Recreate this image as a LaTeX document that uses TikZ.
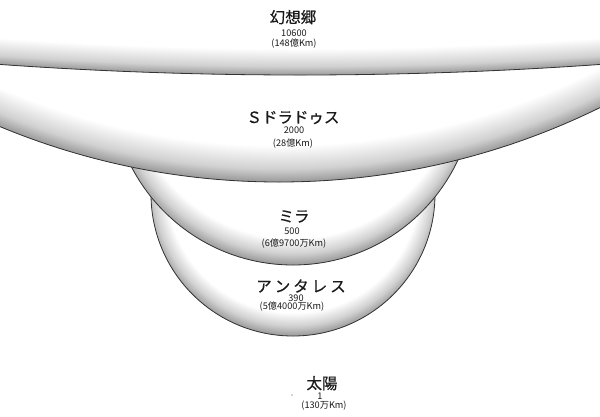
\documentclass[tikz,border=0pt]{standalone}
\usepackage{fontspec}
\setmainfont{Noto Sans CJK JP}
\newfontfamily\namefont[FakeBold=0.5]{Noto Sans CJK JP}
\definecolor{rimgray}{HTML}{989898}
\definecolor{rimline}{HTML}{333333}
\definecolor{txt}{HTML}{1A1A1A}
\pgfdeclareradialshading{shGen}{\pgfpointorigin}{color(0bp)=(white); color(24.84bp)=(white); color(24.945bp)=(white!55!rimgray); color(25bp)=(rimgray); color(50bp)=(rimgray)}
\pgfdeclareradialshading{shSdor}{\pgfpointorigin}{color(0bp)=(white); color(23.75bp)=(white); color(24.55bp)=(white!55!rimgray); color(25bp)=(rimgray); color(50bp)=(rimgray)}
\pgfdeclareradialshading{shMira}{\pgfpointorigin}{color(0bp)=(white); color(21.5bp)=(white); color(23.5bp)=(white!55!rimgray); color(25bp)=(rimgray); color(50bp)=(rimgray)}
\pgfdeclareradialshading{shAnt}{\pgfpointorigin}{color(0bp)=(white); color(21.1bp)=(white); color(23.3bp)=(white!55!rimgray); color(25bp)=(rimgray); color(50bp)=(rimgray)}
\tikzset{
  starname/.style={font=\namefont\fontsize{15.5}{16}\selectfont, text=txt, inner sep=0pt, text height=12.5pt, text depth=0.5pt},
  starnum/.style={font=\fontsize{9.2}{10}\selectfont, text=txt, inner sep=0pt, text height=5.5pt, text depth=1.1pt},
  rim/.style={draw=rimline, line width=0.8pt},
}
\begin{document}
\begin{tikzpicture}[x=1pt,y=-1pt]
\useasboundingbox (0,0) rectangle (600,416);
\fill[white] (0,0) rectangle (600,416);
\clip (0,0) rectangle (600,416);
% Antares
\begin{scope}
  \clip (293,194) circle (142pt);
  \fill[rimgray] (293,194) circle (142pt);
  \shade[shading=shAnt] (293,186) circle (150pt);
\end{scope}
\draw[rim] (293,194) circle (142pt);
% Mira
\begin{scope}
  \clip (293,83) circle (182pt);
  \fill[rimgray] (293,83) circle (182pt);
  \shade[shading=shMira] (293,74) circle (191pt);
\end{scope}
\draw[rim] (293,83) circle (182pt);
% S Doradus
\begin{scope}
  \clip (279,-546) circle (728pt);
  \fill[rimgray] (279,-546) circle (728pt);
  \shade[shading=shSdor] (279,-556) circle (738pt);
\end{scope}
\draw[rim] (279,-546) circle (728pt);
% Gensokyo
\begin{scope}
  \clip (300,-4125) circle (4200pt);
  \fill[rimgray] (300,-4125) circle (4200pt);
  \shade[shading=shGen] (300,-4131) circle (4206pt);
\end{scope}
\draw[rim] (300,-4125) circle (4200pt);
% labels
\node[starname] (gen) at (293,17) {幻想郷};
\node[starnum] (genr) at (294,34) {10600};
\node[starnum] (gend) at (294,44) {(148億Km)};
\node[starname] (sdor) at (293,117) {Ｓドラドゥス};
\node[starnum] (sdorr) at (294,131) {2000};
\node[starnum] (sdord) at (293,144) {(28億Km)};
\node[starname] (mira) at (294,216) {ミラ};
\node[starnum] (mirar) at (292,232) {500};
\node[starnum] (mirad) at (294,244) {(6億9700万Km)};
\node[starname] (ant) at (301,286) {ア\kern3ptン\kern3ptタ\kern3ptレ\kern3ptス};
\node[starnum] (antr) at (296,299) {390};
\node[starnum] (antd) at (292,307.5) {(5億4000万Km)};
\node[starname] (sun) at (322,383) {太陽};
\node[starnum] (sunr) at (320,397.5) {1};
\node[starnum] (sund) at (324,406.5) {(130万Km)};
\fill[black!70] (292,395) circle (0.6pt);
\end{tikzpicture}
\end{document}
